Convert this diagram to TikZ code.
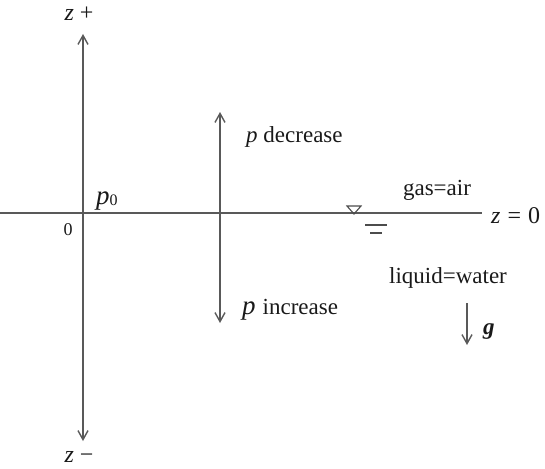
\documentclass[tikz,border=0pt]{standalone}
\usepackage{fontspec}
\setmainfont{Liberation Serif}
\usetikzlibrary{arrows.meta}
\begin{document}
\begin{tikzpicture}[x=1pt,y=-1pt,
  ax/.style={draw=black!65,line width=1.4pt},
  arr/.style={ax,-{Straight Barb[length=9pt,width=10pt,line width=1.4pt]}},
  lbl/.style={font=\fontsize{23}{27}\selectfont,text=black!90,inner sep=0pt}]
\useasboundingbox (0,0) rectangle (545,468);
% coordinates
\coordinate (o) at (83,213);
\coordinate (ztop) at (83,34);
\coordinate (zbot) at (83,441);
\coordinate (hl) at (0,213);
\coordinate (hr) at (482,213);
\coordinate (mc) at (220,213);
\coordinate (mt) at (220,112);
\coordinate (mb) at (220,323);
\coordinate (gt) at (467,303);
\coordinate (gb) at (467,345);
% axes
\draw[arr] (o) -- (ztop);
\draw[arr] (o) -- (zbot);
\draw[ax] (hl) -- (hr);
\draw[arr] (mc) -- (mt);
\draw[arr] (mc) -- (mb);
\draw[arr] (gt) -- (gb);
% free surface symbol
\draw[draw=black!70,line width=1.1pt] (347,206) -- (361,206) -- (354,214) -- cycle;
\draw[draw=black!70,line width=1.1pt] (365,225) -- (387,225);
\draw[draw=black!70,line width=1.1pt] (370,233) -- (382,233);
% labels
\node[lbl,anchor=base] (ztext) at (79,21) {\fontsize{24}{27}\selectfont\textit{z}\hspace{6pt}+};
\node[lbl,anchor=base] (zmtext) at (79,462) {\fontsize{24}{27}\selectfont\textit{z}\hspace{6pt}−};
\node[lbl,anchor=base west] (p0) at (96,204) {\fontsize{27}{29}\selectfont\textit{p}\raisebox{-1pt}{\fontsize{16}{18}\selectfont 0}};
\node[lbl,anchor=base] (zero) at (68,235) {\fontsize{18}{20}\selectfont 0};
\node[lbl,anchor=base west] (pdec) at (246,142) {\textit{p} decrease};
\node[lbl,anchor=base west] (pinc) at (242,314) {\textit{\fontsize{27}{29}\selectfont p}\hspace{7pt}increase};
\node[lbl,anchor=base] (gas) at (437,195) {gas=air};
\node[lbl,anchor=base west] (zeq) at (491,223) {\fontsize{24}{26}\selectfont\textit{z}\hspace{7pt}=\hspace{7pt}0};
\node[lbl,anchor=base] (liq) at (448,283) {liquid=water};
\node[lbl,anchor=base west] (g) at (483,334) {\textbf{\textit{g}}};
\end{tikzpicture}
\end{document}
